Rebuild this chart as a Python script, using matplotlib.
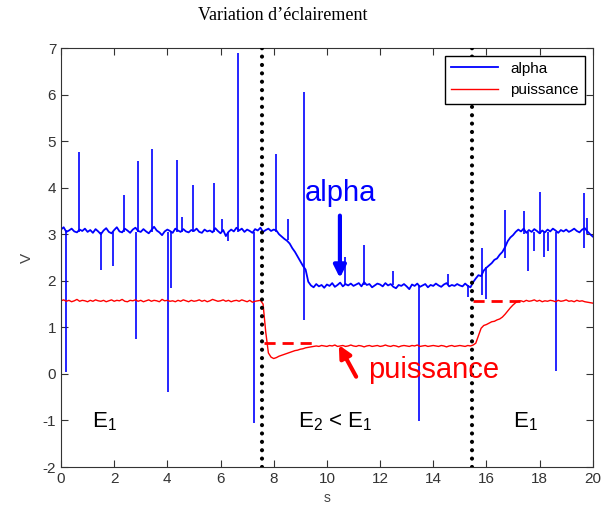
import numpy as np
import matplotlib
matplotlib.use('Agg')
import matplotlib.pyplot as plt

plt.rcParams['font.family'] = ['Liberation Sans', 'DejaVu Sans']
plt.rcParams['mathtext.default'] = 'regular'
plt.rcParams['axes.unicode_minus'] = False

# time grid of the traces (s), one sample every 0.1 s
t = np.arange(201) / 10.0

# alpha trace (V)
alpha = [3.10, 3.15, 3.05, 3.08, 3.12, 3.06, 3.04, 3.10, 3.07, 3.12,
         3.05, 3.09, 3.03, 3.11, 3.06, 3.00, 3.08, 3.13, 3.05, 3.02,
         3.09, 3.15, 3.06, 3.04, 3.12, 3.08, 3.03, 3.10, 3.14, 3.07,
         3.05, 3.11, 3.06, 3.02, 3.09, 3.16, 3.08, 3.04, 2.98, 3.06,
         3.10, 3.07, 3.03, 3.12, 3.08, 3.05, 3.11, 3.06, 3.04, 3.09,
         3.07, 3.12, 3.05, 3.03, 3.10, 3.06, 3.08, 3.04, 3.13, 3.07,
         3.02, 3.09, 2.96, 3.05, 3.10, 3.06, 3.14, 3.08, 3.12, 3.05,
         3.10, 3.07, 3.03, 3.11, 3.08, 3.14, 3.05, 3.09, 3.12, 3.07,
         3.10, 3.08, 3.00, 2.95, 2.90, 2.86, 2.80, 2.70, 2.62, 2.52,
         2.42, 2.32, 2.24, 1.98, 1.90, 1.86, 1.93, 1.88, 1.91, 1.85,
         1.92, 1.89, 1.95, 1.87, 1.91, 1.96, 1.88, 1.93, 1.90, 1.94,
         1.89, 1.92, 1.95, 1.88, 1.97, 1.91, 1.93, 1.86, 1.90, 1.94,
         1.92, 1.88, 1.95, 1.90, 1.93, 1.87, 1.84, 1.91, 1.89, 1.93,
         1.88, 1.82, 1.92, 1.89, 1.94, 1.87, 1.90, 1.93, 1.86, 1.91,
         1.89, 1.94, 1.90, 1.87, 1.92, 1.95, 1.88, 1.91, 1.89, 1.93,
         1.90, 1.88, 1.94, 1.89, 1.86, 1.97, 2.05, 2.12, 2.10, 2.22,
         2.28, 2.33, 2.38, 2.45, 2.48, 2.56, 2.62, 2.72, 2.85, 2.93,
         2.98, 3.05, 3.10, 3.06, 3.12, 3.03, 3.09, 3.05, 3.11, 3.07,
         3.02, 3.08, 3.04, 3.10, 3.06, 3.12, 3.08, 3.03, 3.09, 3.06,
         3.10, 3.05, 3.08, 3.12, 3.07, 3.04, 3.10, 3.13, 3.06, 3.00,
         2.95]

# puissance trace (V)
puissance = [1.57, 1.59, 1.56, 1.58, 1.55, 1.57, 1.60, 1.56, 1.58, 1.57,
             1.55, 1.58, 1.56, 1.59, 1.57, 1.56, 1.58, 1.55, 1.57, 1.59,
             1.56, 1.58, 1.57, 1.60, 1.56, 1.55, 1.58, 1.57, 1.59, 1.56,
             1.58, 1.55, 1.57, 1.59, 1.56, 1.58, 1.57, 1.55, 1.60, 1.57,
             1.58, 1.56, 1.57, 1.55, 1.58, 1.56, 1.59, 1.57, 1.55, 1.58,
             1.56, 1.57, 1.59, 1.56, 1.58, 1.55, 1.57, 1.60, 1.58, 1.56,
             1.57, 1.59, 1.56, 1.58, 1.55, 1.57, 1.58, 1.56, 1.59, 1.57,
             1.55, 1.58, 1.54, 1.56, 1.57, 1.58, 1.50, 0.90, 0.45, 0.36,
             0.33, 0.35, 0.38, 0.40, 0.42, 0.44, 0.46, 0.48, 0.50, 0.51,
             0.53, 0.54, 0.56, 0.57, 0.58, 0.59, 0.60, 0.59, 0.61, 0.60,
             0.59, 0.61, 0.60, 0.62, 0.59, 0.60, 0.61, 0.59, 0.60, 0.62,
             0.60, 0.59, 0.61, 0.60, 0.58, 0.60, 0.61, 0.59, 0.60, 0.61,
             0.59, 0.60, 0.62, 0.60, 0.59, 0.61, 0.60, 0.58, 0.60, 0.61,
             0.60, 0.59, 0.61, 0.60, 0.62, 0.59, 0.60, 0.61, 0.59, 0.60,
             0.61, 0.60, 0.59, 0.61, 0.60, 0.58, 0.60, 0.61, 0.59, 0.60,
             0.61, 0.60, 0.59, 0.61, 0.60, 0.62, 0.66, 0.82, 0.98, 1.04,
             1.06, 1.09, 1.12, 1.13, 1.16, 1.18, 1.22, 1.28, 1.35, 1.42,
             1.48, 1.53, 1.56, 1.57, 1.55, 1.58, 1.56, 1.57, 1.59, 1.56,
             1.58, 1.55, 1.57, 1.56, 1.58, 1.57, 1.55, 1.58, 1.56, 1.57,
             1.59, 1.56, 1.57, 1.55, 1.58, 1.56, 1.57, 1.55, 1.54, 1.53,
             1.52]

# isolated spikes on the alpha trace: time, low end, high end
spike_t = [0.18, 0.69, 1.49, 1.94, 2.38, 2.82, 2.91, 3.41, 4.03, 4.14,
           4.37, 4.54, 4.97, 5.76, 6.04, 6.29, 6.64, 7.27, 8.07, 8.55,
           9.15, 10.68, 11.40, 12.49, 13.46, 14.56, 15.30, 15.84, 15.98,
           16.69, 17.42, 17.57, 17.78, 18.00, 18.16, 18.32, 18.63, 19.66,
           19.80]
spike_lo = [0.03, 3.05, 2.24, 2.31, 3.05, 0.75, 3.05, 3.05, -0.38, 1.85,
            3.05, 3.05, 3.05, 3.05, 3.05, 2.85, 3.05, -1.05, 3.05, 2.88,
            1.15, 1.90, 1.90, 1.90, -1.02, 1.90, 1.65, 1.70, 1.60,
            2.50, 3.00, 2.22, 2.65, 3.00, 2.52, 2.65, 0.07, 2.70,
            3.00]
spike_hi = [3.10, 4.76, 3.05, 3.05, 3.85, 3.05, 4.57, 4.84, 3.05, 3.05,
            4.60, 3.38, 4.06, 4.11, 3.33, 3.05, 6.90, 3.05, 4.73, 3.33,
            6.05, 2.52, 2.77, 2.20, 1.90, 2.15, 1.90, 2.71, 2.30,
            3.51, 3.49, 3.05, 3.05, 3.90, 3.05, 3.05, 3.05, 3.88,
            3.35]

# change of lighting (s)
switch_t = [7.55, 15.45]
# dashed red reference levels: start, end, level
ref_t0 = [7.65, 15.50]
ref_t1 = [9.55, 17.25]
ref_v = [0.67, 1.56]

fig = plt.figure(figsize=(6.13, 5.08), dpi=100)
ax = fig.add_axes([0.0995, 0.0807, 0.8675, 0.8248])

ax.vlines(spike_t, spike_lo, spike_hi, color='blue', lw=1.2)
ax.plot(t, alpha, color='blue', lw=1.3, label='alpha')
ax.plot(t, puissance, color='red', lw=1.0, label='puissance')
ax.hlines(ref_v, ref_t0, ref_t1, color='red', lw=2, linestyles=(0, (4, 2.5)))
for x in switch_t:
    ax.plot([x, x], [-2, 7], color='black', lw=3, ls=(0, (0.01, 2.0)),
            dash_capstyle='round', zorder=3)

ax.set_xlim(0, 20)
ax.set_ylim(-2, 7)
ax.set_xticks(range(0, 21, 2))
ax.set_yticks(range(-2, 8))
ax.tick_params(direction='in', length=5, top=True, right=True,
               labelsize=11, labelcolor='#333333', color='#333333')
for s in ax.spines.values():
    s.set_color('#333333')
ax.set_xlabel('s', fontsize=10, color='#444444', labelpad=4)
ax.set_ylabel('V', fontsize=11, color='#444444', labelpad=6)

leg = ax.legend(loc='upper right', fontsize=11, fancybox=False,
                edgecolor='black', framealpha=1, handlelength=3.1,
                borderaxespad=0.5)
leg.get_frame().set_linewidth(1.0)
leg.set_zorder(5)

ax.text(9.17, 3.89, 'alpha', color='blue', fontsize=21, va='center')
ax.annotate('', xy=(10.49, 2.06), xytext=(10.49, 3.40),
            arrowprops=dict(arrowstyle='-|>', color='blue', lw=3,
                            mutation_scale=18, shrinkA=0, shrinkB=0))
ax.text(11.54, 0.09, 'puissance', color='red', fontsize=21, va='center')
ax.annotate('', xy=(10.45, 0.62), xytext=(11.1, -0.06),
            arrowprops=dict(arrowstyle='-|>', color='red', lw=3,
                            mutation_scale=18, shrinkA=0, shrinkB=0))

ax.text(1.15, -1.03, 'E$_1$', fontsize=16, va='center')
ax.text(8.92, -1.03, 'E$_2$ < E$_1$', fontsize=16, va='center')
ax.text(17.0, -1.03, 'E$_1$', fontsize=16, va='center')

fig.text(0.461, 0.970, 'Variation d\u2019\u00e9clairement', ha='center',
         va='center', fontsize=13, family='Liberation Serif')

fig.savefig('out.png', dpi=100)
